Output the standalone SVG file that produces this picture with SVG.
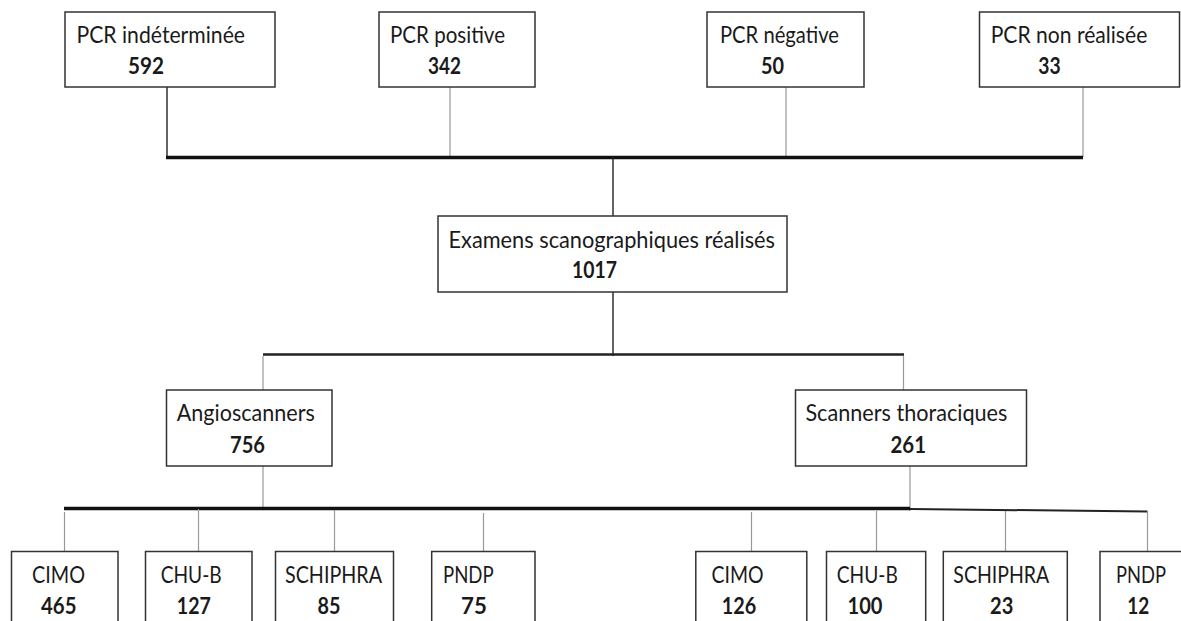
<svg xmlns="http://www.w3.org/2000/svg" width="1181" height="621" viewBox="0 0 1181 621">
<style>
.box{fill:#fff;stroke:#333;stroke-width:1.5}
.lbl{font-family:Lato,"Open Sans","Liberation Sans",sans-serif;font-size:23px;fill:#1a1a1a}
.num{font-family:Lato,"Open Sans","Liberation Sans",sans-serif;font-size:23px;font-weight:bold;fill:#1a1a1a}
.thin{stroke:#999;stroke-width:1.2;fill:none}
.dark{stroke:#222;stroke-width:1.4;fill:none}
.bar{stroke:#111;stroke-width:3.5;fill:none}
</style>
<rect width="1181" height="621" fill="#fff"/>
<g id="connectors">
<line class="dark" x1="167" y1="87" x2="167" y2="157"/>
<line class="thin" x1="450" y1="87" x2="450" y2="157"/>
<line class="thin" x1="786" y1="87" x2="786" y2="157"/>
<line class="thin" x1="1083" y1="87" x2="1083" y2="157"/>
<line class="bar" x1="166" y1="157.5" x2="1083" y2="157.5"/>
<line class="dark" x1="613" y1="157" x2="613" y2="216"/>
<line class="dark" x1="613" y1="292" x2="613" y2="356"/>
<line stroke="#222" stroke-width="2.5" x1="263" y1="354.5" x2="904" y2="354.5"/>
<line class="thin" x1="263" y1="356" x2="263" y2="390"/>
<line class="thin" x1="903.5" y1="356" x2="903.5" y2="390"/>
<line class="thin" x1="263" y1="466" x2="263" y2="508"/>
<line class="thin" x1="910" y1="466" x2="910" y2="511"/>
<line class="bar" x1="64" y1="508.5" x2="910" y2="508.5"/>
<path d="M910 509 L1147.5 511.5" stroke="#222" stroke-width="2" fill="none"/>
<line class="thin" x1="64.5" y1="512" x2="64.5" y2="552"/>
<line class="thin" x1="198.5" y1="509" x2="198.5" y2="552"/>
<line class="thin" x1="334.5" y1="510" x2="334.5" y2="552"/>
<line class="thin" x1="483.5" y1="513" x2="483.5" y2="552"/>
<line class="thin" x1="751.5" y1="512" x2="751.5" y2="552"/>
<line class="thin" x1="876.5" y1="511" x2="876.5" y2="552"/>
<line class="thin" x1="1005.5" y1="511" x2="1005.5" y2="552"/>
<line class="thin" x1="1147.5" y1="511" x2="1147.5" y2="552"/>
</g>
<g id="pcr-indeterminee">
<rect class="box" x="65" y="12" width="210" height="75"/>
<text class="lbl" x="76.5" y="43" textLength="168.5" lengthAdjust="spacingAndGlyphs">PCR indéterminée</text>
<text class="num" x="128" y="74" textLength="36" lengthAdjust="spacingAndGlyphs">592</text>
</g>
<g id="pcr-positive">
<rect class="box" x="379" y="12" width="156" height="75"/>
<text class="lbl" x="390" y="43" textLength="115" lengthAdjust="spacingAndGlyphs">PCR positive</text>
<text class="num" x="428" y="74" textLength="33" lengthAdjust="spacingAndGlyphs">342</text>
</g>
<g id="pcr-negative">
<rect class="box" x="707" y="12" width="157" height="75"/>
<text class="lbl" x="720" y="43" textLength="119" lengthAdjust="spacingAndGlyphs">PCR négative</text>
<text class="num" x="761" y="74" textLength="23" lengthAdjust="spacingAndGlyphs">50</text>
</g>
<g id="pcr-non-realisee">
<rect class="box" x="979.5" y="12" width="200" height="75"/>
<text class="lbl" x="990.7" y="43" textLength="156.6" lengthAdjust="spacingAndGlyphs">PCR non réalisée</text>
<text class="num" x="1038.3" y="74" textLength="22.4" lengthAdjust="spacingAndGlyphs">33</text>
</g>
<g id="examens">
<rect class="box" x="438" y="216" width="349" height="76"/>
<text class="lbl" x="448.5" y="248" textLength="326.5" lengthAdjust="spacingAndGlyphs">Examens scanographiques réalisés</text>
<text class="num" x="572" y="278" textLength="45" lengthAdjust="spacingAndGlyphs">1017</text>
</g>
<g id="angioscanners">
<rect class="box" x="166.5" y="390" width="165.5" height="76"/>
<text class="lbl" x="176.8" y="421" textLength="138" lengthAdjust="spacingAndGlyphs">Angioscanners</text>
<text class="num" x="230" y="453" textLength="35" lengthAdjust="spacingAndGlyphs">756</text>
</g>
<g id="scanners-thoraciques">
<rect class="box" x="795.5" y="390" width="231" height="76"/>
<text class="lbl" x="805.4" y="421" textLength="202" lengthAdjust="spacingAndGlyphs">Scanners thoraciques</text>
<text class="num" x="890.5" y="453" textLength="35.5" lengthAdjust="spacingAndGlyphs">261</text>
</g>
<g id="angio-cimo">
<rect class="box" x="11.5" y="551.5" width="106.5" height="100"/>
<text class="lbl" x="32" y="583" textLength="53" lengthAdjust="spacingAndGlyphs">CIMO</text>
<text class="num" x="41" y="614" textLength="35.5" lengthAdjust="spacingAndGlyphs">465</text>
</g>
<g id="angio-chub">
<rect class="box" x="145.5" y="551.5" width="106.5" height="100"/>
<text class="lbl" x="160.7" y="583" textLength="61" lengthAdjust="spacingAndGlyphs">CHU-B</text>
<text class="num" x="176.8" y="614" textLength="34" lengthAdjust="spacingAndGlyphs">127</text>
</g>
<g id="angio-schiphra">
<rect class="box" x="275.5" y="551.5" width="118" height="100"/>
<text class="lbl" x="285" y="583" textLength="97" lengthAdjust="spacingAndGlyphs">SCHIPHRA</text>
<text class="num" x="317.6" y="614" textLength="23" lengthAdjust="spacingAndGlyphs">85</text>
</g>
<g id="angio-pndp">
<rect class="box" x="431.7" y="551.5" width="103.3" height="100"/>
<text class="lbl" x="443" y="583" textLength="50.7" lengthAdjust="spacingAndGlyphs">PNDP</text>
<text class="num" x="461" y="614" textLength="25.8" lengthAdjust="spacingAndGlyphs">75</text>
</g>
<g id="thorax-cimo">
<rect class="box" x="695.8" y="551.5" width="111" height="100"/>
<text class="lbl" x="711.5" y="583" textLength="52" lengthAdjust="spacingAndGlyphs">CIMO</text>
<text class="num" x="721.8" y="614" textLength="34.5" lengthAdjust="spacingAndGlyphs">126</text>
</g>
<g id="thorax-chub">
<rect class="box" x="826.5" y="551.5" width="99.2" height="100"/>
<text class="lbl" x="836.8" y="583" textLength="61" lengthAdjust="spacingAndGlyphs">CHU-B</text>
<text class="num" x="847.5" y="614" textLength="35" lengthAdjust="spacingAndGlyphs">100</text>
</g>
<g id="thorax-schiphra">
<rect class="box" x="943.3" y="551.5" width="124" height="100"/>
<text class="lbl" x="953.3" y="583" textLength="96" lengthAdjust="spacingAndGlyphs">SCHIPHRA</text>
<text class="num" x="990" y="614" textLength="23.3" lengthAdjust="spacingAndGlyphs">23</text>
</g>
<g id="thorax-pndp">
<rect class="box" x="1100" y="551.5" width="100" height="100"/>
<text class="lbl" x="1116" y="583" textLength="50" lengthAdjust="spacingAndGlyphs">PNDP</text>
<text class="num" x="1127.3" y="614" textLength="22" lengthAdjust="spacingAndGlyphs">12</text>
</g>
</svg>
